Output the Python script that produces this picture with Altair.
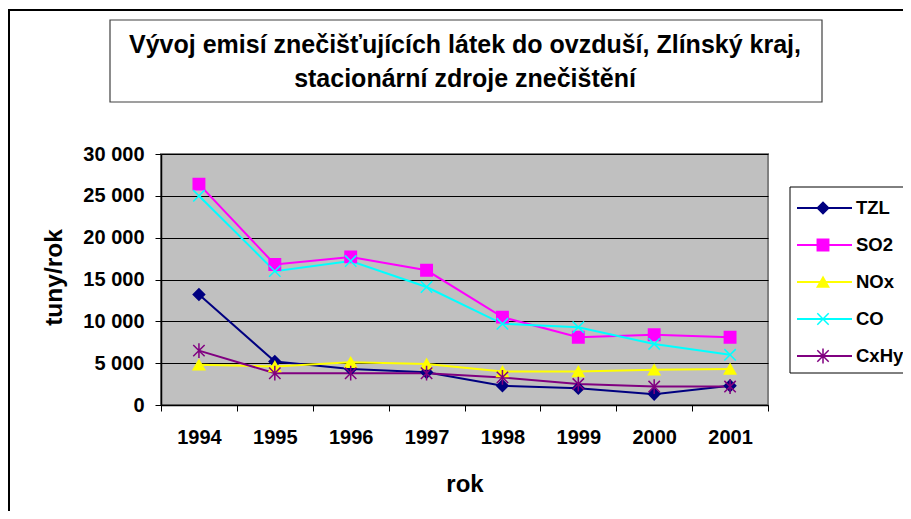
import altair as alt
import pandas as pd

years = ["1994", "1995", "1996", "1997", "1998", "1999", "2000", "2001"]
series = ["TZL", "SO2", "NOx", "CO", "CxHy"]
tzl = [13200, 5200, 4300, 3900, 2300, 2000, 1300, 2300]
so2 = [26400, 16800, 17700, 16100, 10500, 8100, 8400, 8100]
nox = [4800, 4600, 5100, 4900, 4000, 4000, 4200, 4300]
co = [25000, 16000, 17200, 14100, 9700, 9300, 7300, 6000]
cxhy = [6500, 3800, 3800, 3800, 3300, 2500, 2200, 2200]
y_ticks = [0, 5000, 10000, 15000, 20000, 25000, 30000]

colors = ["#000080", "#FF00FF", "#FFFF00", "#00FFFF", "#800080"]
shapes = ["diamond", "square", "triangle-up",
          "M-1,-1L1,1M-1,1L1,-1",
          "M-1,-1L1,1M-1,1L1,-1M0,-1.3L0,1.3"]

title1 = "Vývoj emisí znečišťujících látek do ovzduší, Zlínský kraj,"
title2 = "stacionární zdroje znečištění"

FONT = "Liberation Sans"

rows = []
for s, vals in zip(series, [tzl, so2, nox, co, cxhy]):
    for yr, v in zip(years, vals):
        rows.append({"series": s, "rok": yr, "value": v})
df = pd.DataFrame(rows)
leg = pd.DataFrame({"series": series, "idx": list(range(len(series)))})
one = pd.DataFrame({"a": [0]})

cscale = alt.Scale(domain=series, range=colors)
sscale = alt.Scale(domain=series, range=shapes)
yscale = alt.Scale(domain=[0, 30000], nice=False, zero=True)
xscale = alt.Scale(type="band", domain=years, paddingInner=0, paddingOuter=0)
lscale = alt.Scale(domain=[0, 4], range=[54, 202], nice=False, zero=False)

base = alt.Chart(df)

lines = base.mark_line(strokeWidth=2).encode(
    x=alt.X("rok:N", scale=xscale, sort=years,
            axis=alt.Axis(title="rok", labelAngle=0, tickBand="extent", grid=False,
                          domainColor="black", domainWidth=1.5, tickColor="black",
                          tickSize=6, labelPadding=26, labelBaseline="middle",
                          labelFont=FONT, labelFontSize=20, labelFontWeight="bold",
                          labelColor="black",
                          titleFont=FONT, titleFontSize=24, titleFontWeight="bold",
                          titleColor="black", titleX=303.5, titleY=79,
                          titleBaseline="middle", titleAlign="center")),
    y=alt.Y("value:Q", scale=yscale,
            axis=alt.Axis(orient="left", values=y_ticks, title="tuny/rok",
                          labelExpr="replace(format(datum.value, ','), ',', ' ')",
                          grid=True, gridColor="#000000", gridWidth=1,
                          domainColor="black", domainWidth=1.5, tickColor="black",
                          tickSize=6, labelPadding=11,
                          labelFont=FONT, labelFontSize=20, labelFontWeight="bold",
                          labelColor="black",
                          titleFont=FONT, titleFontSize=24.5, titleFontWeight="bold",
                          titleColor="black", titleX=-107, titleY=123,
                          titleAngle=270, titleBaseline="middle", titleAlign="center")),
    color=alt.Color("series:N", scale=cscale, legend=None),
    detail="series:N",
)

points = base.mark_point(size=130, strokeWidth=1.5, opacity=1, fillOpacity=1).encode(
    x=alt.X("rok:N", scale=xscale, sort=years),
    y=alt.Y("value:Q", scale=yscale, axis=None),
    shape=alt.Shape("series:N", scale=sscale, legend=None),
    fill=alt.Fill("series:N", scale=cscale, legend=None),
    stroke=alt.Stroke("series:N", scale=cscale, legend=None),
)

frame = alt.Chart(one).mark_rect(fillOpacity=0, stroke="black", strokeWidth=2).encode(
    x=alt.value(-152), x2=alt.value(800), y=alt.value(-144), y2=alt.value(450))

tbox = alt.Chart(one).mark_rect(fill="white", stroke="#404040", strokeWidth=1.2).encode(
    x=alt.value(-51), x2=alt.value(661), y=alt.value(-134), y2=alt.value(-52))

t1 = alt.Chart(one).mark_text(font=FONT, fontSize=25, fontWeight="bold", color="black",
                              align="center", baseline="middle").encode(
    x=alt.value(304), y=alt.value(-109), text=alt.value(title1))
t2 = alt.Chart(one).mark_text(font=FONT, fontSize=25, fontWeight="bold", color="black",
                              align="center", baseline="middle").encode(
    x=alt.value(304), y=alt.value(-75), text=alt.value(title2))

lbox = alt.Chart(one).mark_rect(fill="white", stroke="black", strokeWidth=1).encode(
    x=alt.value(629), x2=alt.value(800), y=alt.value(33), y2=alt.value(219))

lbase = alt.Chart(leg)
lrule = lbase.mark_rule(strokeWidth=2).encode(
    x=alt.value(636), x2=alt.value(691),
    y=alt.Y("idx:Q", scale=lscale, axis=None),
    color=alt.Color("series:N", scale=cscale, legend=None))
lpts = lbase.mark_point(size=130, strokeWidth=1.5, opacity=1, fillOpacity=1).encode(
    x=alt.value(662),
    y=alt.Y("idx:Q", scale=lscale, axis=None),
    shape=alt.Shape("series:N", scale=sscale, legend=None),
    fill=alt.Fill("series:N", scale=cscale, legend=None),
    stroke=alt.Stroke("series:N", scale=cscale, legend=None))
ltxt = lbase.mark_text(font=FONT, fontSize=18.5, fontWeight="bold", color="black",
                       align="left", baseline="middle").encode(
    x=alt.value(695),
    y=alt.Y("idx:Q", scale=lscale, axis=None),
    text="series:N")

chart = alt.layer(lines, points, frame, tbox, t1, t2, lbox, lrule, lpts, ltxt).resolve_scale(
    y="independent"
).properties(
    width=607, height=251,
    autosize=alt.AutoSizeParams(type="none"),
    padding={"left": 153, "top": 146, "right": 135, "bottom": 106},
).configure_view(
    fill="#C0C0C0", stroke="#808080", strokeWidth=2
)

chart.save("out.html", embed_options={"renderer": "svg", "actions": False})
